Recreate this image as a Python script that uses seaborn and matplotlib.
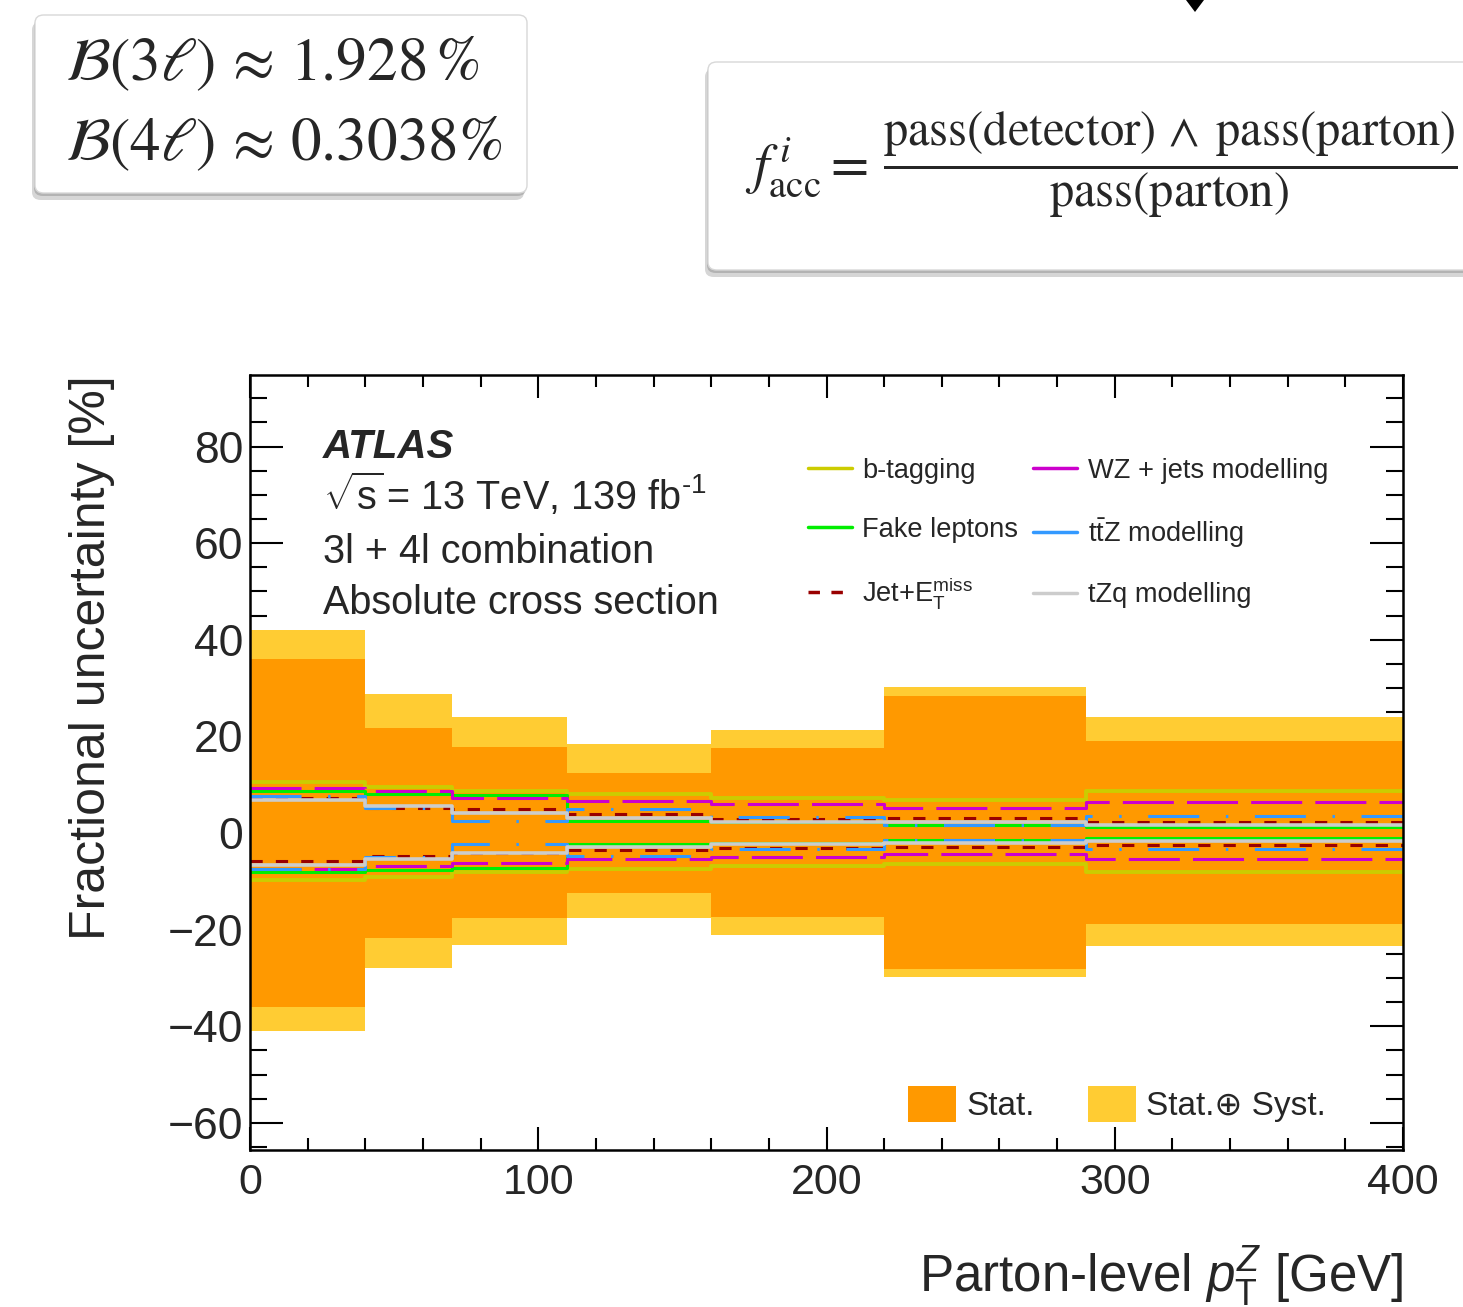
import numpy as np
import pandas as pd
import matplotlib
matplotlib.use("Agg")
import matplotlib.pyplot as plt
import seaborn as sns
from matplotlib.patches import FancyBboxPatch, Polygon, Patch
from matplotlib.lines import Line2D
from matplotlib.ticker import MultipleLocator

# ---------------- data ----------------
bin_edges = [0, 40, 70, 110, 160, 220, 290, 400]
stat_up = [36.0, 21.7, 17.8, 12.4, 17.6, 28.4, 19.0]
stat_dn = [-36.0, -21.7, -17.6, -12.4, -17.4, -28.2, -18.8]
tot_up = [42.0, 28.8, 24.0, 18.4, 21.3, 30.2, 24.0]
tot_dn = [-41.0, -27.9, -23.2, -17.6, -21.1, -29.8, -23.4]

btag_up = [10.5, 9.6, 8.8, 8.0, 7.3, 6.8, 8.8]
btag_dn = [-9.7, -9.0, -8.1, -7.5, -6.8, -6.5, -8.1]
fake_up = [8.6, 8.0, 7.9, 2.5, 2.3, 1.6, 1.2]
fake_dn = [-8.1, -7.7, -7.2, -2.3, -2.1, -1.4, -1.0]
jet_up = [7.3, 5.1, 4.9, 3.9, 3.0, 3.2, 2.3]
jet_dn = [-5.8, -4.8, -4.2, -3.6, -3.0, -2.8, -2.4]
wz_up = [9.4, 8.7, 7.2, 6.7, 6.1, 5.1, 6.4]
wz_dn = [-7.5, -6.8, -6.1, -5.4, -5.0, -4.3, -5.4]
ttz_up = [7.7, 5.1, 2.5, 5.0, 3.4, 1.6, 3.5]
ttz_dn = [-7.5, -5.0, -2.3, -4.8, -3.3, -1.4, -3.3]
tzq_up = [6.8, 5.6, 4.2, 3.1, 2.3, 2.3, 1.6]
tzq_dn = [-6.6, -5.4, -4.2, -2.9, -2.3, -2.1, -1.6]

legend_labels = ["b-tagging", "Fake leptons", r"Jet+E$_{\mathrm{T}}^{\mathrm{miss}}$",
                 "WZ + jets modelling", r"t$\bar{\mathrm{t}}$Z modelling", "tZq modelling"]
band_labels = ["Stat.", "Stat.\u2295 Syst."]

# ---------------- style ----------------
sns.set_style("ticks")
plt.rcParams["font.family"] = ["Liberation Sans", "DejaVu Sans"]
plt.rcParams["mathtext.fontset"] = "custom"
plt.rcParams["mathtext.rm"] = "Liberation Sans"
plt.rcParams["mathtext.it"] = "Liberation Sans:italic"
plt.rcParams["mathtext.bf"] = "Liberation Sans:bold"

C_STAT = "#FF9900"
C_TOT = "#FFCC33"
C_BTAG = "#CCCC00"
C_FAKE = "#00EE00"
C_JET = "#990000"
C_WZ = "#CC00CC"
C_TTZ = "#3399FF"
C_TZQ = "#CCCCCC"

W, H = 1463, 1307
fig = plt.figure(figsize=(W / 100, H / 100), dpi=100)
fig.patch.set_facecolor("white")


def fx(px):
    return px / W


def fy(py):
    return 1 - py / H


# ---------------- top decorative boxes ----------------
def box(x0, y0, x1, y1):
    sh = FancyBboxPatch((fx(x0 - 3), fy(y1 + 7)), fx(x1 - x0), (y1 - y0) / H,
                        boxstyle="round,pad=0,rounding_size=0.006",
                        transform=fig.transFigure, facecolor="#9a9a9a",
                        edgecolor="none", alpha=0.4, zorder=1)
    fig.add_artist(sh)
    sh2 = FancyBboxPatch((fx(x0 - 1), fy(y1 + 3)), fx(x1 - x0), (y1 - y0) / H,
                         boxstyle="round,pad=0,rounding_size=0.006",
                         transform=fig.transFigure, facecolor="#8a8a8a",
                         edgecolor="none", alpha=0.45, zorder=1)
    fig.add_artist(sh2)
    b = FancyBboxPatch((fx(x0), fy(y1)), fx(x1 - x0), (y1 - y0) / H,
                       boxstyle="round,pad=0,rounding_size=0.006",
                       transform=fig.transFigure, facecolor="white",
                       edgecolor="#d8d8d8", linewidth=1.0, zorder=2)
    fig.add_artist(b)


box(35, 15, 527, 193)
box(708, 62, 1490, 270)

fig.text(fx(65), fy(80), r"$\mathcal{B}(3\ell)\,\approx\,1.928\,\%$", fontsize=44,
         math_fontfamily="stix", va="baseline", ha="left", zorder=3)
fig.text(fx(65), fy(160), r"$\mathcal{B}(4\ell)\,\approx\,0.3038\%$", fontsize=44,
         math_fontfamily="stix", va="baseline", ha="left", zorder=3)

fig.text(fx(745), fy(168), r"$f^{\,i}_{\mathrm{acc}} =$", fontsize=40,
         math_fontfamily="stix", va="center", ha="left", zorder=3)
fig.text(fx(1170), fy(165),
         r"$\dfrac{\mathrm{pass(detector)}\,\wedge\;\mathrm{pass(parton)}}{\mathrm{pass(parton)}}$",
         fontsize=35, math_fontfamily="stix", va="center", ha="center", zorder=3)

arrow = Polygon([[fx(1186), fy(0)], [fx(1204), fy(0)], [fx(1195), fy(12)]],
                closed=True, transform=fig.transFigure, facecolor="black",
                edgecolor="none")
fig.add_artist(arrow)

# ---------------- main axes ----------------
ax = fig.add_axes([fx(250), fy(1150), 1153 / W, 775 / H])
ax.set_facecolor("white")

centers = [(a + b) / 2 for a, b in zip(bin_edges[:-1], bin_edges[1:])]


def band(vals, color):
    sns.histplot(x=centers, weights=vals, bins=bin_edges, element="step",
                 fill=True, color=color, alpha=1.0, linewidth=0, ax=ax)


band(tot_up, C_TOT)
band(tot_dn, C_TOT)
band(stat_up, C_STAT)
band(stat_dn, C_STAT)


def syst(vals, color, lw, ls):
    y = list(vals) + [vals[-1]]
    sns.lineplot(x=bin_edges, y=y, drawstyle="steps-post", color=color,
                 linewidth=lw, linestyle=ls, estimator=None, sort=False,
                 legend=False, ax=ax)


LS_JET = (0, (4.0, 4.3))
LS_WZ = (0, (16.7, 4.3))
LS_TTZ = (0, (16.7, 8.7, 0.8, 8.7))

for up, dn, col, lw, ls in [
    (btag_up, btag_dn, C_BTAG, 2.8, "-"),
    (fake_up, fake_dn, C_FAKE, 2.2, "-"),
    (jet_up, jet_dn, C_JET, 2.2, LS_JET),
    (wz_up, wz_dn, C_WZ, 2.2, LS_WZ),
    (ttz_up, ttz_dn, C_TTZ, 2.2, LS_TTZ),
    (tzq_up, tzq_dn, C_TZQ, 2.6, "-"),
]:
    syst(up, col, lw, ls)
    syst(dn, col, lw, ls)

ax.set_xlim(0, 400)
ax.set_ylim(-65.6, 94.8)

ax.xaxis.set_major_locator(MultipleLocator(100))
ax.xaxis.set_minor_locator(MultipleLocator(20))
ax.yaxis.set_major_locator(MultipleLocator(20))
ax.yaxis.set_minor_locator(MultipleLocator(5))

ax.tick_params(which="both", direction="in", top=True, right=True, width=1.5,
               color="black")
ax.tick_params(axis="x", which="major", length=16.5, labelsize=31, pad=9)
ax.tick_params(axis="x", which="minor", length=8.6)
ax.tick_params(axis="y", which="major", length=23.8, labelsize=32, pad=5)
ax.tick_params(axis="y", which="minor", length=12)

for sp in ax.spines.values():
    sp.set_visible(True)
    sp.set_linewidth(1.8)
    sp.set_color("black")

ax.set_ylabel("Fractional uncertainty [%]", fontsize=36, loc="top")
ax.yaxis.set_label_coords(-0.117, 1.0)
ax.set_xlabel(r"Parton-level $p_{\mathrm{T}}^{Z}$ [GeV]", fontsize=36.8, loc="right")
ax.xaxis.set_label_coords(1.0, -0.122)

# ---------------- annotations ----------------
ax.text(0.0633, 0.893, "ATLAS", fontweight="bold", fontstyle="italic",
        fontsize=29, transform=ax.transAxes, va="baseline")
ax.text(0.0633, 0.826, r"$\sqrt{\mathrm{s}}\!$ = 13 TeV, 139 fb$^{\text{-}1}$",
        fontsize=28.5, transform=ax.transAxes, va="baseline")
ax.text(0.0633, 0.758, "3l + 4l combination", fontsize=28.5,
        transform=ax.transAxes, va="baseline")
ax.text(0.0633, 0.692, "Absolute cross section", fontsize=28.5,
        transform=ax.transAxes, va="baseline")

handles = [
    Line2D([], [], color=C_BTAG, lw=2.5),
    Line2D([], [], color=C_FAKE, lw=2.5),
    Line2D([], [], color=C_JET, lw=2.5, linestyle=(0, (3.3, 3.3))),
    Line2D([], [], color=C_WZ, lw=2.5),
    Line2D([], [], color=C_TTZ, lw=2.5),
    Line2D([], [], color=C_TZQ, lw=2.5),
]
leg1 = ax.legend(handles, legend_labels, ncol=2, loc="upper left",
                 bbox_to_anchor=(0.484, 0.893), frameon=False, fontsize=19.6,
                 handlelength=1.6, handletextpad=0.4, columnspacing=0.55,
                 labelspacing=1.2, borderaxespad=0, borderpad=0)
ax.add_artist(leg1)

handles2 = [Patch(facecolor=C_STAT, edgecolor="none"),
            Patch(facecolor=C_TOT, edgecolor="none")]
leg2 = ax.legend(handles2, band_labels, ncol=2, loc="upper left",
                 bbox_to_anchor=(0.5705, 0.083), frameon=False, fontsize=24,
                 handlelength=1.45, handleheight=1.3, handletextpad=0.3,
                 columnspacing=1.6, borderaxespad=0, borderpad=0)

fig.savefig("out.png", dpi=100, facecolor="white")
